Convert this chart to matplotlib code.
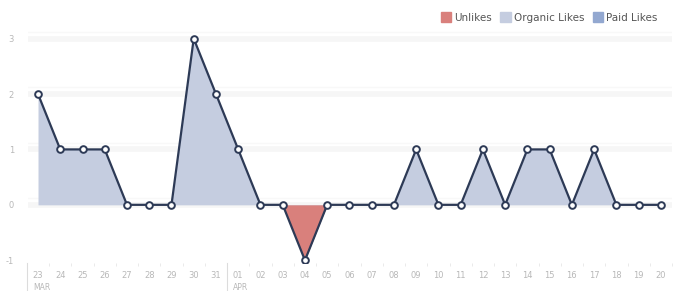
import matplotlib.pyplot as plt
import numpy as np

days = ["23", "24", "25", "26", "27", "28", "29", "30", "31",
        "01", "02", "03", "04", "05", "06", "07", "08", "09", "10",
        "11", "12", "13", "14", "15", "16", "17", "18", "19", "20"]
months = ["MAR", "APR"]
month_start = [0, 9]
net_likes = [2, 1, 1, 1, 0, 0, 0, 3, 2,
             1, 0, 0, -1, 0, 0, 0, 0, 1, 0,
             0, 1, 0, 1, 1, 0, 1, 0, 0, 0]
yticks = [-1, 0, 1, 2, 3]
legend_labels = ["Unlikes", "Organic Likes", "Paid Likes"]

c_unlike = "#d9807c"
c_organic = "#c5cde0"
c_paid = "#93a8d0"
c_line = "#2d3a56"
c_text = "#b8b8b8"

fig = plt.figure(figsize=(6.77, 2.91), dpi=100)
ax = fig.add_axes([28 / 677, 1 - 263 / 291, 644 / 677, 241 / 291])

x = np.arange(len(days))
y = np.array(net_likes, dtype=float)

# faint horizontal bands
for v in yticks[1:]:
    ax.axhline(v, color="#f6f6f6", lw=4, zorder=0)
    ax.axhline(v + 0.12, color="#f8f8f8", lw=1, zorder=0)

ax.fill_between(x, y, 0, interpolate=True, color=c_organic, lw=0, zorder=1)
ax.fill_between(x, np.minimum(y, 0), 0, interpolate=True, color=c_unlike, lw=0, zorder=2)
ax.plot(x, y, color=c_line, lw=1.6, zorder=3,
        marker="o", ms=4.8, mfc="white", mec=c_line, mew=1.4)

ax.set_xlim(-0.45, 28.3)
ax.set_ylim(-1.05, 3.3)

ax.set_yticks(yticks)
ax.set_yticklabels([str(v) for v in yticks])
ax.set_xticks(x)
ax.set_xticklabels(days)
ax.tick_params(axis="both", length=0, labelsize=6, labelcolor=c_text)
ax.tick_params(axis="x", pad=6)
ax.tick_params(axis="y", pad=10)
for s in ax.spines.values():
    s.set_visible(False)

# minor marks between day labels
ax.set_xticks(x + 0.5, minor=True)
ax.tick_params(axis="x", which="minor", length=2, color="#e6e6e6", direction="out")

# month separators and month names
for m, i in zip(months, month_start):
    ax.plot([i - 0.5, i - 0.5], [-1.05, -1.55], color="#dcdcdc", lw=0.8,
            clip_on=False)
    ax.text(i - 0.22, -1.42, m, fontsize=5.5, color=c_text, ha="left", va="top",
            clip_on=False)

handles = [plt.Rectangle((0, 0), 1, 1, color=c) for c in (c_unlike, c_organic, c_paid)]
fig.legend(handles, legend_labels, loc="upper right", bbox_to_anchor=(0.985, 0.99),
           ncol=3, frameon=False, fontsize=7.5, handlelength=1.0, handleheight=1.0,
           handletextpad=0.3, columnspacing=0.8, labelcolor="#555555")

fig.savefig("out.png", dpi=100)
